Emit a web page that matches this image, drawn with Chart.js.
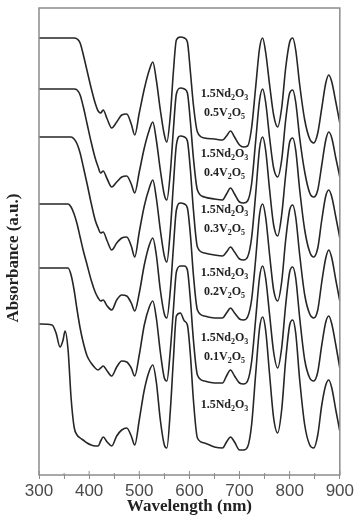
<!DOCTYPE html>
<html>
<head>
<meta charset="utf-8">
<title>Absorbance spectra</title>
<script src="https://cdn.jsdelivr.net/npm/chart.js@4.4.1/dist/chart.umd.min.js"></script>
<style>
  html, body { margin: 0; padding: 0; background: #fff; }
  canvas { display: block; }
</style>
</head>
<body>
<canvas id="absChart" width="356" height="518"></canvas>
<script>
// wavelength (nm), shared by all curves
const wavelength = [300, 326, 334, 342, 348, 352, 358, 364, 370, 376, 382, 388,
  396, 404, 412, 418, 423, 428, 436, 445, 455, 465, 475, 484,
  491, 500, 510, 520, 527, 534, 542, 550, 555, 562, 568, 574,
  582, 590, 596, 602, 608, 616, 630, 650, 666, 674, 682, 690,
  700, 708, 716, 724, 732, 740, 746, 752, 760, 768, 776, 784,
  792, 800, 806, 812, 820, 830, 840, 848, 856, 864, 872, 878,
  884, 892, 900];

// absorbance (a.u., curves stacked with offsets as in the figure)
const absV05 = [4.37, 4.37, 4.37, 4.37, 4.37, 4.37, 4.37, 4.37, 4.37, 4.36, 4.32, 4.21,
  4.04, 3.87, 3.72, 3.64, 3.62, 3.65, 3.56, 3.47, 3.53, 3.60, 3.61, 3.51,
  3.40, 3.62, 3.86, 4.05, 4.13, 3.95, 3.65, 3.40, 3.33, 3.60, 4.03, 4.35,
  4.38, 4.37, 4.33, 4.03, 3.70, 3.43, 3.37, 3.36, 3.35, 3.39, 3.44, 3.38,
  3.30, 3.28, 3.29, 3.47, 3.87, 4.27, 4.37, 4.23, 3.90, 3.60, 3.48, 3.67,
  4.07, 4.33, 4.37, 4.25, 3.90, 3.55, 3.36, 3.32, 3.42, 3.67, 3.92, 4.00,
  3.93, 3.73, 3.52];

const absV04 = [3.86, 3.86, 3.86, 3.86, 3.86, 3.86, 3.86, 3.86, 3.86, 3.85, 3.80, 3.69,
  3.51, 3.33, 3.17, 3.08, 3.02, 3.04, 2.96, 2.88, 2.93, 2.98, 2.99, 2.91,
  2.82, 3.03, 3.27, 3.45, 3.53, 3.35, 3.05, 2.80, 2.75, 3.03, 3.45, 3.81,
  3.87, 3.86, 3.82, 3.53, 3.17, 2.85, 2.78, 2.76, 2.75, 2.81, 2.87, 2.81,
  2.73, 2.72, 2.74, 2.91, 3.33, 3.75, 3.86, 3.73, 3.37, 3.07, 2.98, 3.15,
  3.55, 3.82, 3.85, 3.73, 3.37, 3.03, 2.82, 2.78, 2.85, 3.10, 3.35, 3.43,
  3.37, 3.17, 2.98];

const absV03 = [3.38, 3.38, 3.38, 3.38, 3.38, 3.38, 3.38, 3.38, 3.36, 3.31, 3.22, 3.09,
  2.91, 2.72, 2.55, 2.47, 2.42, 2.43, 2.34, 2.25, 2.32, 2.37, 2.38, 2.29,
  2.18, 2.43, 2.69, 2.87, 2.95, 2.77, 2.45, 2.19, 2.13, 2.45, 2.90, 3.30,
  3.39, 3.38, 3.34, 3.05, 2.65, 2.28, 2.22, 2.20, 2.19, 2.23, 2.28, 2.23,
  2.16, 2.15, 2.18, 2.37, 2.80, 3.27, 3.38, 3.25, 2.85, 2.50, 2.39, 2.60,
  3.00, 3.33, 3.37, 3.25, 2.85, 2.45, 2.23, 2.18, 2.27, 2.55, 2.79, 2.85,
  2.78, 2.58, 2.37];

const absV02 = [2.71, 2.71, 2.71, 2.71, 2.71, 2.71, 2.71, 2.68, 2.61, 2.51, 2.38, 2.25,
  2.10, 1.95, 1.83, 1.77, 1.74, 1.75, 1.69, 1.65, 1.75, 1.80, 1.79, 1.72,
  1.64, 1.82, 2.10, 2.30, 2.37, 2.20, 1.85, 1.61, 1.57, 1.85, 2.27, 2.65,
  2.72, 2.71, 2.67, 2.40, 2.00, 1.65, 1.59, 1.57, 1.57, 1.62, 1.67, 1.62,
  1.56, 1.55, 1.58, 1.75, 2.15, 2.61, 2.71, 2.58, 2.20, 1.85, 1.74, 1.93,
  2.35, 2.65, 2.70, 2.58, 2.20, 1.80, 1.61, 1.57, 1.65, 1.93, 2.17, 2.25,
  2.17, 1.95, 1.74];

const absV01 = [2.07, 2.07, 2.07, 2.07, 2.07, 2.07, 2.07, 2.00, 1.85, 1.65, 1.47, 1.33,
  1.19, 1.12, 1.07, 1.05, 1.07, 1.09, 1.04, 0.99, 1.08, 1.14, 1.13, 1.07,
  0.99, 1.20, 1.50, 1.68, 1.74, 1.57, 1.23, 0.97, 0.94, 1.25, 1.65, 2.03,
  2.09, 2.09, 2.05, 1.75, 1.35, 1.00, 0.94, 0.92, 0.92, 0.99, 1.05, 0.99,
  0.92, 0.91, 0.94, 1.13, 1.55, 1.98, 2.09, 1.97, 1.60, 1.23, 1.07, 1.27,
  1.70, 2.03, 2.08, 1.97, 1.57, 1.15, 0.97, 0.94, 1.03, 1.30, 1.53, 1.59,
  1.51, 1.30, 1.07];

const absV00 = [1.51, 1.50, 1.42, 1.28, 1.35, 1.44, 1.25, 0.77, 0.48, 0.40, 0.37, 0.35,
  0.32, 0.30, 0.29, 0.29, 0.34, 0.38, 0.33, 0.29, 0.39, 0.45, 0.47, 0.39,
  0.30, 0.55, 0.85, 1.04, 1.10, 0.93, 0.55, 0.30, 0.27, 0.65, 1.15, 1.59,
  1.62, 1.54, 1.50, 1.20, 0.75, 0.37, 0.32, 0.28, 0.27, 0.33, 0.38, 0.33,
  0.25, 0.25, 0.28, 0.50, 1.00, 1.47, 1.58, 1.45, 1.00, 0.57, 0.42, 0.65,
  1.15, 1.50, 1.55, 1.42, 0.95, 0.50, 0.30, 0.27, 0.40, 0.70, 0.90, 0.95,
  0.87, 0.65, 0.44];

// V2O5 content of each sample (null = no V2O5)
const vContent = ['0.5', '0.4', '0.3', '0.2', '0.1', null];
const curves = [absV05, absV04, absV03, absV02, absV01, absV00];
const xTicks = [300, 400, 500, 600, 700, 800, 900];

const serif = "'Liberation Serif', 'DejaVu Serif', serif";

// draws a formula with subscripts, centred on cx, cy
function drawFormula(ctx, parts, cx, cy) {
  const big = 'bold 12px ' + serif;
  const small = 'bold 8px ' + serif;
  let w = 0;
  parts.forEach(p => {
    ctx.font = p.sub ? small : big;
    w += ctx.measureText(p.t).width;
  });
  let x = cx - w / 2;
  ctx.textBaseline = 'middle';
  ctx.textAlign = 'left';
  parts.forEach(p => {
    ctx.font = p.sub ? small : big;
    ctx.fillText(p.t, x, p.sub ? cy + 4 : cy);
    x += ctx.measureText(p.t).width;
  });
}

const decor = {
  id: 'decor',
  afterDraw(chart) {
    const { ctx, chartArea: a, scales: { x, y } } = chart;
    ctx.save();
    // frame
    ctx.strokeStyle = '#8c8c8c';
    ctx.lineWidth = 1.5;
    ctx.strokeRect(a.left, a.top, a.right - a.left, a.bottom - a.top);
    // inner tick marks
    ctx.lineWidth = 1;
    for (let v = 300; v <= 900; v += 50) {
      const px = x.getPixelForValue(v);
      ctx.beginPath();
      ctx.moveTo(px, a.bottom);
      ctx.lineTo(px, a.bottom - (v % 100 === 0 ? 4 : 2));
      ctx.stroke();
    }
    // y title
    ctx.fillStyle = '#222';
    ctx.font = 'bold 17px ' + serif;
    ctx.translate(14, 258);
    ctx.rotate(-Math.PI / 2);
    ctx.textAlign = 'center';
    ctx.textBaseline = 'middle';
    ctx.fillText('Absorbance (a.u.)', 0, 0);
    ctx.restore();

    // sample labels, placed above the 650 nm plateau of each curve
    ctx.save();
    ctx.fillStyle = '#222';
    const idx = wavelength.indexOf(650);
    const cx = x.getPixelForValue(670);
    curves.forEach((c, i) => {
      const fy = y.getPixelForValue(c[idx]);
      const nd = [{ t: '1.5Nd' }, { t: '2', sub: 1 }, { t: 'O' }, { t: '3', sub: 1 }];
      if (vContent[i]) {
        drawFormula(ctx, nd, cx, fy - 45);
        drawFormula(ctx, [{ t: vContent[i] + 'V' }, { t: '2', sub: 1 }, { t: 'O' }, { t: '5', sub: 1 }], cx, fy - 26);
      } else {
        drawFormula(ctx, nd, cx, fy - 42);
      }
    });
    ctx.restore();
  }
};

const ctx = document.getElementById('absChart');
new Chart(ctx, {
  type: 'line',
  data: {
    datasets: curves.map((c, i) => ({
      label: vContent[i] ? '1.5Nd2O3 ' + vContent[i] + 'V2O5' : '1.5Nd2O3',
      data: wavelength.map((w, j) => ({ x: w, y: c[j] })),
      borderColor: '#262626',
      borderWidth: 1.6,
      pointRadius: 0,
      fill: false,
      cubicInterpolationMode: 'monotone'
    }))
  },
  options: {
    responsive: false,
    animation: false,
    layout: { padding: { top: 8, right: 15, left: 0, bottom: 0 } },
    plugins: {
      legend: { display: false },
      tooltip: { enabled: false }
    },
    scales: {
      x: {
        type: 'linear',
        min: 300,
        max: 900,
        afterFit: s => { s.height = 43; },
        afterBuildTicks: s => {
          const t = [];
          for (let v = 300; v <= 900; v += 50) t.push({ value: v });
          s.ticks = t;
        },
        ticks: {
          autoSkip: false,
          maxRotation: 0,
          padding: 2,
          color: '#4a4a4a',
          font: { family: "'Liberation Sans', Arial, sans-serif", size: 17 },
          callback: v => xTicks.includes(v) ? String(v) : ''
        },
        grid: { drawOnChartArea: false, tickLength: 4, color: '#8c8c8c' },
        border: { display: false },
        title: {
          display: true,
          text: 'Wavelength (nm)',
          color: '#222',
          padding: { top: 0, bottom: 1 },
          font: { family: serif, size: 17, weight: 'bold' }
        }
      },
      y: {
        min: 0,
        max: 4.67,
        afterFit: s => { s.width = 39; },
        ticks: { display: false },
        grid: { display: false },
        border: { display: false }
      }
    }
  },
  plugins: [decor]
});
</script>
</body>
</html>
